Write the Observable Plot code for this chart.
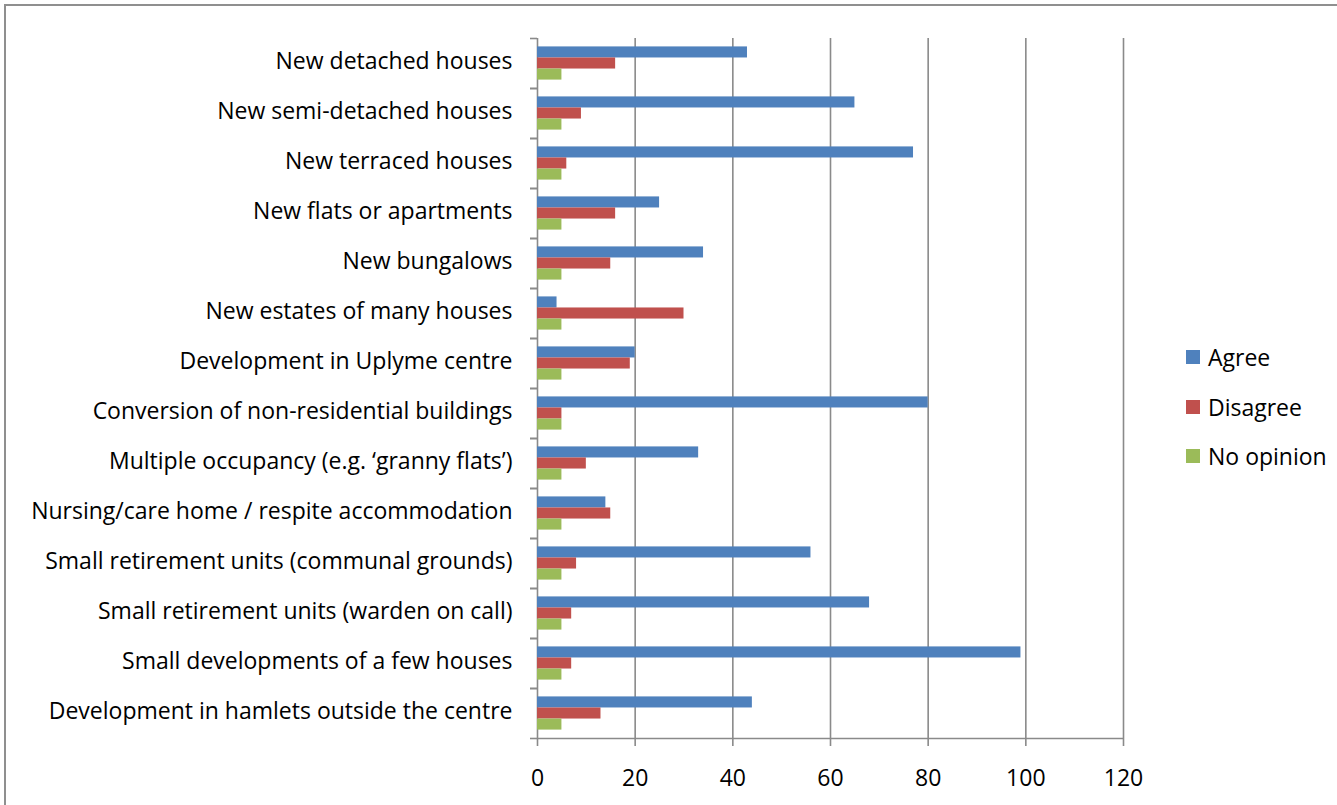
<!DOCTYPE html>
<html>
<head>
<meta charset="utf-8">
<script src="https://cdn.jsdelivr.net/npm/d3@7"></script>
<script src="https://cdn.jsdelivr.net/npm/@observablehq/plot@0.6"></script>
<style>
  html, body { margin: 0; padding: 0; background: #fff; overflow: hidden; }
  #wrap { position: relative; width: 1337px; height: 805px; font-family: "Open Sans", Lato, sans-serif; }
  #border { position: absolute; left: 4px; top: 4px; width: 1400px; height: 900px; border: 2px solid #8f8f8f; box-sizing: border-box; }
  #chart { position: absolute; left: 0; top: 0; }
  #legend { position: absolute; left: 1186px; top: 341px; font-size: 23px; color: #000; }
  #legend .row { display: flex; align-items: center; height: 32px; margin-bottom: 17.5px; }
  #legend .sw { width: 14px; height: 14px; margin-right: 8px; }
</style>
</head>
<body>
<div id="wrap">
  <div id="border"></div>
  <div id="chart"></div>
  <div id="legend"></div>
</div>
<script>
const categories = [
  "New detached houses",
  "New semi-detached houses",
  "New terraced houses",
  "New flats or apartments",
  "New bungalows",
  "New estates of many houses",
  "Development in Uplyme centre",
  "Conversion of non-residential buildings",
  "Multiple occupancy (e.g. \u2018granny flats\u2019)",
  "Nursing/care home / respite accommodation",
  "Small retirement units (communal grounds)",
  "Small retirement units (warden on call)",
  "Small developments of a few houses",
  "Development in hamlets outside the centre"
];
const seriesNames = ["Agree", "Disagree", "No opinion"];
const seriesColors = ["#4f81bd", "#c0504d", "#9bbb59"];
const agree =     [43, 65, 77, 25, 34, 4, 20, 80, 33, 14, 56, 68, 99, 44];
const disagree =  [16, 9, 6, 16, 15, 30, 19, 5, 10, 15, 8, 7, 7, 13];
const noOpinion = [5, 5, 5, 5, 5, 5, 5, 5, 5, 5, 5, 5, 5, 5];
const xTicks = [0, 20, 40, 60, 80, 100, 120];

const seriesValues = [agree, disagree, noOpinion];
const rows = [];
categories.forEach((c, ci) => {
  seriesNames.forEach((s, si) => {
    rows.push({category: c, series: s, i: si, value: seriesValues[si][ci]});
  });
});

const yTop = -0.76, yBottom = 3.76;
const grey = "#8a8a8a";

const plot = Plot.plot({
  width: 1337,
  height: 805,
  marginLeft: 537,
  marginRight: 214,
  marginTop: 35,
  marginBottom: 64,
  style: {fontFamily: "'Open Sans', Lato, sans-serif", fontSize: "23px", color: "#000", background: "transparent"},
  x: {domain: [0, 120], axis: null},
  y: {domain: [yTop, yBottom], reverse: true, axis: null},
  fy: {domain: categories, padding: 0, axis: null},
  color: {domain: seriesNames, range: seriesColors},
  marks: [
    Plot.ruleX(xTicks, {stroke: grey, strokeWidth: 1.6}),
    Plot.rect(rows, {fy: "category", x1: 0, x2: "value", y1: "i", y2: d => d.i + 1, fill: "series"}),
    Plot.axisY({ticks: [yTop, yBottom], tickSize: 7, tickFormat: () => "", stroke: grey, strokeWidth: 1.6, label: null}),
    Plot.ruleY([{category: categories[categories.length - 1], y: yBottom}], {fy: "category", y: "y", stroke: grey, strokeWidth: 1.6}),
    Plot.axisX({ticks: xTicks, tickSize: 8, tickPadding: 23, fontSize: 23, stroke: grey, strokeWidth: 1.6, label: null}),
    Plot.axisFy({anchor: "left", tickSize: 0, tickPadding: 25, fontSize: 23, label: null, dy: -2})
  ]
});
document.getElementById("chart").appendChild(plot);

const legend = d3.select("#legend");
seriesNames.forEach((s, i) => {
  const row = legend.append("div").attr("class", "row");
  row.append("div").attr("class", "sw").style("background", seriesColors[i]);
  row.append("span").text(s);
});
</script>
</body>
</html>
